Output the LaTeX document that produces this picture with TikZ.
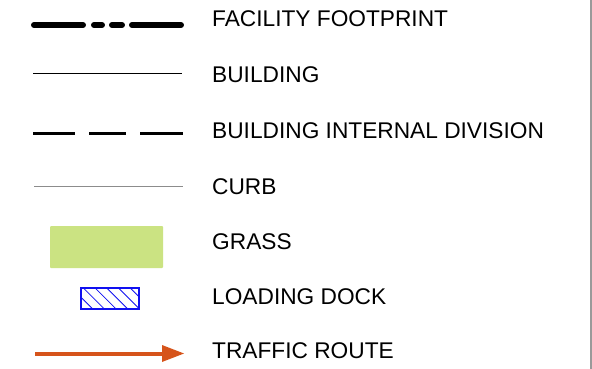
\documentclass[tikz,border=0pt]{standalone}
\usepackage{fontspec}
\setmainfont{Liberation Sans}
\definecolor{grassgreen}{HTML}{CBE382}
\definecolor{dockblue}{HTML}{1010F0}
\definecolor{routeorange}{HTML}{D6541B}
\definecolor{curbgray}{HTML}{8C8C8C}
\definecolor{framegray}{HTML}{9A9A9A}
\tikzset{
  label/.style={anchor=base west, inner sep=0pt, font=\fontsize{22.7}{24}\selectfont},
  footprint/.style={line width=6pt, line cap=round, black},
  bldg/.style={line width=1pt, black},
  division/.style={line width=3pt, black},
  curbline/.style={line width=1.3pt, curbgray},
  route/.style={line width=4pt, routeorange},
}
\begin{document}
\begin{tikzpicture}[x=1pt, y=-1pt]
  \useasboundingbox (0,0) rectangle (592,369);
  % right frame edge
  \draw[framegray, line width=1.2pt] (591,0) -- (591,369);

  % facility footprint: long-short-short-long
  \draw[footprint] (34,25) -- (83,25);
  \draw[footprint] (94,25) -- (102,25);
  \draw[footprint] (112,25) -- (122,25);
  \draw[footprint] (132,25) -- (181,25);
  \node[label] (t1) at (212,27) {FACILITY FOOTPRINT};

  % building
  \draw[bldg] (33,74) -- (182,74);
  \node[label] (t2) at (212,83) {BUILDING};

  % building internal division
  \draw[division] (33,133.5) -- (75,133.5);
  \draw[division] (89,133.5) -- (126,133.5);
  \draw[division] (140,133.5) -- (183,133.5);
  \node[label] (t3) at (212,138.5) {BUILDING INTERNAL DIVISION};

  % curb
  \draw[curbline] (34,186.5) -- (183,186.5);
  \node[label] (t4) at (212,194) {CURB};

  % grass
  \fill[grassgreen, rounded corners=1pt] (50,226) rectangle (163,268);
  \node[label] (t5) at (212,249) {GRASS};

  % loading dock: hatched box
  \begin{scope}
    \clip (81,288) rectangle (139,309);
    \foreach \s in {60,71.7,...,140} {
      \draw[dockblue, line width=0.8pt] (\s,288) -- ++(21,21);
    }
  \end{scope}
  \draw[dockblue, line width=1.4pt] (81,288) rectangle (139,309);
  \node[label] (t6) at (212,304) {LOADING DOCK};

  % traffic route
  \coordinate (rs) at (35,353.5);
  \coordinate (rh) at (163,353.5);
  \draw[route] (rs) -- (rh);
  \fill[routeorange] (162,345) -- (184,353.5) -- (162,362) -- cycle;
  \node[label] (t7) at (212,358.5) {TRAFFIC ROUTE};
\end{tikzpicture}
\end{document}
